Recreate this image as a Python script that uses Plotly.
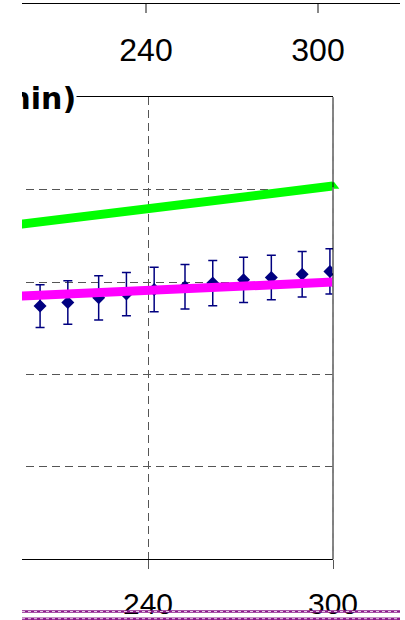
import plotly.graph_objects as go

# ---- data ----
time_pts = [205, 214, 224, 233, 242, 252, 261, 271, 280, 290, 299]
measured = [54.8, 55.6, 56.6, 57.4, 58.4, 59.0, 59.8, 60.5, 61.0, 61.7, 62.3]
measured_err = [4.6, 4.7, 4.8, 4.7, 4.8, 4.8, 4.9, 4.9, 4.8, 4.9, 4.9]
fit_x = [180, 300]
fit_magenta = [56.4, 60.0]
fit_green = [71.0, 80.8]
x_ticks = [240, 300]
y_ticks = [0, 20, 40, 60, 80, 100]

W, H = 405, 620

fig = go.Figure()
fig.add_trace(go.Scatter(
    x=time_pts, y=measured, mode="markers",
    marker=dict(symbol="diamond", size=10, color="#000080"),
    error_y=dict(type="data", array=measured_err, color="#000080", thickness=1.5, width=4.5),
    showlegend=False))
fig.add_trace(go.Scatter(x=fit_x, y=fit_magenta, mode="lines",
                         line=dict(color="#FF00FF", width=9), showlegend=False))
fig.add_trace(go.Scatter(x=fit_x, y=fit_green, mode="lines+markers",
                         line=dict(color="#00FF00", width=9),
                         marker=dict(symbol="triangle-up", size=11, color="#00FF00"),
                         cliponaxis=False, showlegend=False))
# invisible trace to host the upper axis
fig.add_trace(go.Scatter(x=[240], y=[0], xaxis="x2", yaxis="y2", mode="markers",
                         marker=dict(opacity=0), showlegend=False, hoverinfo="skip"))

top_px, bot_px = 97.3, 559.3
fig.update_layout(
    width=W, height=H, autosize=False,
    margin=dict(l=0, r=0, t=0, b=0, pad=0),
    paper_bgcolor="white", plot_bgcolor="white",
    font=dict(family="Liberation Sans, Arial", color="black"),
    xaxis=dict(domain=[0, 333 / W], range=[192, 300], tickvals=x_ticks, automargin=False,
               showline=True, linecolor="black", linewidth=1, mirror=True,
               ticks="outside", ticklen=9, tickcolor="#555555", tickwidth=1,
               showgrid=True, gridcolor="#555555", griddash="8px,5px", gridwidth=1,
               zeroline=False, tickfont=dict(size=30), ticklabelstandoff=9),
    yaxis=dict(domain=[(H - bot_px) / H, (H - top_px) / H], range=[0, 100], automargin=False,
               tickvals=y_ticks, showticklabels=False, ticks="",
               showline=False, zeroline=False,
               showgrid=True, gridcolor="#555555", griddash="8px,5px", gridwidth=1),
    xaxis2=dict(domain=[22 / W, 400 / W], range=[196.74, 328.6], anchor="y2", automargin=False,
                tickvals=x_ticks, showline=True, linecolor="black", linewidth=1,
                ticks="outside", ticklen=9, tickcolor="#888888", tickwidth=1.5,
                showgrid=False, zeroline=False, tickfont=dict(size=32),
                ticklabelstandoff=10),
    yaxis2=dict(domain=[1 - 3 / H, 1], visible=False, automargin=False),
    shapes=[
        dict(type="line", xref="paper", yref="paper", x0=333 / W, x1=333 / W,
             y0=(H - bot_px) / H, y1=(H - top_px) / H, line=dict(color="black", width=1)),
        dict(type="line", xref="paper", yref="paper", x0=333 / W, x1=333 / W,
             y0=(H - bot_px) / H, y1=(H - top_px) / H,
             line=dict(color="#888888", width=1.5, dash="8px,5px")),
        dict(type="line", xref="paper", yref="paper", x0=22 / W, x1=400 / W,
             y0=(H - 611.5) / H, y1=(H - 611.5) / H, line=dict(color="#8B1A8B", width=2.5)),
        dict(type="line", xref="paper", yref="paper", x0=22 / W, x1=400 / W,
             y0=(H - 618.7) / H, y1=(H - 618.7) / H, line=dict(color="#8B1A8B", width=2.5)),
        dict(type="line", xref="paper", yref="paper", x0=22 / W, x1=400 / W,
             y0=(H - 611.5) / H, y1=(H - 611.5) / H,
             line=dict(color="#E6C8E6", width=1, dash="3px,3px")),
        dict(type="line", xref="paper", yref="paper", x0=22 / W, x1=400 / W,
             y0=(H - 618.7) / H, y1=(H - 618.7) / H,
             line=dict(color="#E6C8E6", width=1, dash="3px,3px")),
    ],
    annotations=[
        dict(text="<b>Time (min)</b>", xref="paper", yref="paper",
             x=77 / W, y=(H - 98) / H, xanchor="right", yanchor="middle",
             showarrow=False, font=dict(size=30, color="black", family="DejaVu Sans"),
             bgcolor="white", borderpad=0),
        dict(text=" ", xref="paper", yref="paper", x=22 / W, y=0.5, xanchor="right",
             yanchor="middle", showarrow=False, width=60, height=H + 40,
             bgcolor="white", borderpad=0, borderwidth=0),
    ],
)

fig.write_html(
    "out.html",
    config={"responsive": False, "displayModeBar": False},
    post_script=("document.body.style.margin='0';"
                 "document.documentElement.style.overflow='hidden';"
                 "Plotly.relayout('{plot_id}', {width: 405, height: 620});"),
)
